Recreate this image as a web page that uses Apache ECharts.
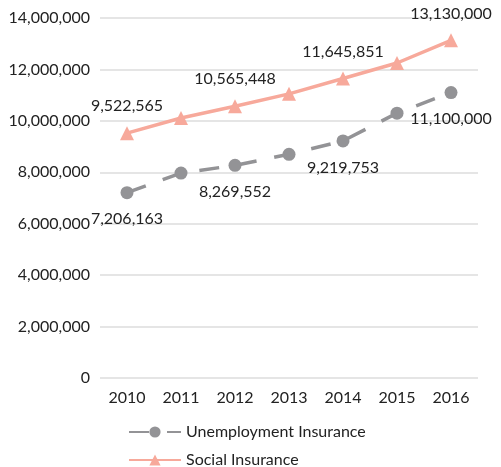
<!DOCTYPE html>
<html><head><meta charset="utf-8">
<script src="https://cdn.jsdelivr.net/npm/echarts@6/dist/echarts.min.js"></script>
<style>html,body{margin:0;padding:0;background:#fff}#c{width:501px;height:467px}</style>
</head><body><div id="c"></div>
<script>
const years = ['2010','2011','2012','2013','2014','2015','2016'];
const unemployment = [7206163, 7970000, 8269552, 8700000, 9219753, 10300000, 11100000];
const social = [9522565, 10110000, 10565448, 11050000, 11645851, 12250000, 13130000];
const yTicks = [0, 2000000, 4000000, 6000000, 8000000, 10000000, 12000000, 14000000];
const font = 'Lato';
const fmt = v => v.toLocaleString('en-US');
const legendText = {fontFamily: font, fontSize: 16, color: '#222'};
const chart = echarts.init(document.getElementById('c'));
chart.setOption({
  animation: false,
  textStyle: {fontFamily: font},
  grid: {left: 100, right: 23, top: 18, bottom: 89},
  legend: [
    {left: 123, top: 419, itemWidth: 52, itemHeight: 14, itemGap: 14, textStyle: legendText, data: ['Unemployment Insurance']},
    {left: 123, top: 447, itemWidth: 52, itemHeight: 14, itemGap: 14, textStyle: legendText, data: ['Social Insurance']}
  ],
  xAxis: {
    type: 'category', data: years, boundaryGap: true,
    axisLine: {show: false}, axisTick: {show: false},
    axisLabel: {fontFamily: font, fontSize: 16, color: '#222', margin: 12}
  },
  yAxis: {
    type: 'value', min: yTicks[0], max: yTicks[yTicks.length-1], interval: 2000000,
    axisLine: {show: false}, axisTick: {show: false},
    axisLabel: {fontFamily: font, fontSize: 16, color: '#222', margin: 10, formatter: fmt},
    splitLine: {lineStyle: {color: '#dcdcdc', width: 1.5}}
  },
  series: [
    {
      name: 'Unemployment Insurance', type: 'line', data: unemployment,
      symbol: 'circle', symbolSize: 13,
      itemStyle: {color: '#939396'},
      lineStyle: {color: '#939396', width: 3.5, type: [20, 18]},
      label: {show: true, position: 'bottom', distance: 12, fontFamily: font, fontSize: 16, color: '#222',
        formatter: p => (p.dataIndex % 2 === 0 ? fmt(p.value) : '')}
    },
    {
      name: 'Social Insurance', type: 'line', data: social,
      symbol: 'triangle', symbolSize: 14,
      itemStyle: {color: '#f7a99b'},
      lineStyle: {color: '#f7a99b', width: 3.5},
      label: {show: true, position: 'top', distance: 12, fontFamily: font, fontSize: 16, color: '#222',
        formatter: p => (p.dataIndex % 2 === 0 ? fmt(p.value) : '')}
    }
  ]
});
</script></body></html>
